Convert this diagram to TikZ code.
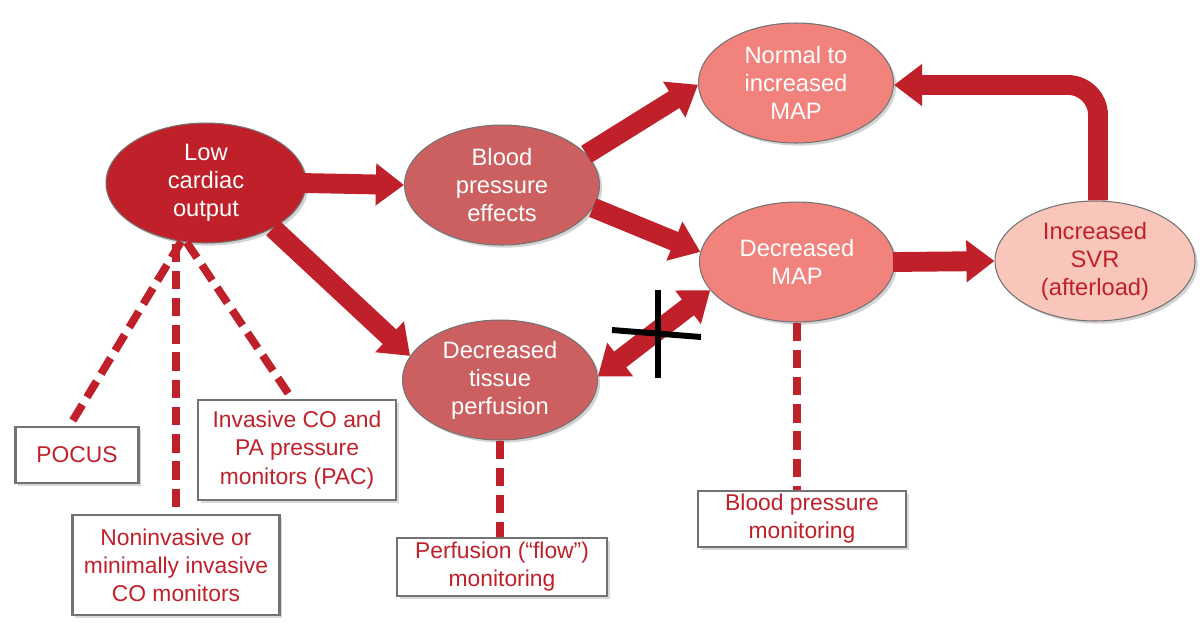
\documentclass[tikz,border=0pt]{standalone}
\usepackage{fontspec}
\setmainfont{Liberation Sans}
\usetikzlibrary{arrows.meta,shapes.geometric,shadows}
\definecolor{dred}{RGB}{192,32,42}
\definecolor{midred}{RGB}{204,96,96}
\definecolor{salmon}{RGB}{242,130,124}
\definecolor{palepink}{RGB}{248,198,186}
\tikzset{
  oval/.style={ellipse, minimum width=3.9cm, minimum height=2.4cm, inner sep=0pt, align=center,
    draw=black!55, line width=0.6pt, text=white,
    font=\fontsize{13.5}{16}\selectfont,
    drop shadow={opacity=0.35, shadow xshift=1.5pt, shadow yshift=-1.5pt}},
  mbox/.style={rectangle, draw=black!55, line width=1.2pt, fill=white, align=center, text=dred,
    inner sep=0pt, font=\fontsize{13}{16}\selectfont,
    drop shadow={opacity=0.3, shadow xshift=1.5pt, shadow yshift=-1.5pt}},
  bigarrow/.style={draw=dred, line width=11.3pt, -{Triangle[length=16pt,width=23pt]}},
  dblarrow/.style={draw=dred, line width=11.3pt, {Triangle[length=16pt,width=23pt]}-{Triangle[length=16pt,width=23pt]}},
  dashlink/.style={draw=dred, line width=4.5pt, dash pattern=on 10.5pt off 5pt},
  crossline/.style={draw=black, line width=3.4pt}
}
\begin{document}
\begin{tikzpicture}[x=0.02cm,y=-0.02cm]
\useasboundingbox (0,0) rectangle (1200,630);

% ovals
\node[oval, fill=dred, minimum width=4cm] (lco) at (206,183) {Low\\cardiac\\output};
\node[oval, fill=midred] (bpe) at (502,185) {Blood\\pressure\\effects};
\node[oval, fill=midred] (dtp) at (500,380) {Decreased\\tissue\\perfusion};
\node[oval, fill=salmon] (nmap) at (796,83) {Normal to\\increased\\MAP};
\node[oval, fill=salmon] (dmap) at (797,262) {Decreased\\MAP};
\node[oval, fill=palepink, text=dred, minimum width=4cm] (svr) at (1095,261) {Increased\\SVR\\(afterload)};

% boxes
\node[mbox, minimum width=2.46cm, minimum height=1.12cm] (pocus) at (77,455) {POCUS};
\node[mbox, minimum width=3.96cm, minimum height=2cm] (inv) at (297,450) {Invasive CO and\\PA pressure\\monitors (PAC)};
\node[mbox, minimum width=4.14cm, minimum height=2cm] (nonin) at (176,565) {Noninvasive or\\minimally invasive\\CO monitors};
\node[mbox, minimum width=4.2cm, minimum height=1.16cm] (perf) at (502,567) {Perfusion (“flow”)\\monitoring};
\node[mbox, minimum width=4.16cm, minimum height=1.12cm] (bpm) at (802,519) {Blood pressure\\monitoring};

% dashed links
\draw[dashlink] (lco.-113) -- ([xshift=-0.15cm]pocus.north);
\draw[dashlink] (nonin.north |- lco.south) -- (nonin.north);
\draw[dashlink] (lco.-108) -- ([xshift=-0.1cm]inv.north);
\draw[dashlink] (dtp.south) -- (dtp.south |- perf.north);
\draw[dashlink] (dmap.south) -- (dmap.south |- bpm.north);

% arrows
\draw[bigarrow] ([xshift=-0.08cm]lco.east) -- (bpe.west);
\draw[bigarrow] (lco.-34) -- (dtp.165);
\draw[bigarrow] (bpe.20) -- (nmap.181);
\draw[bigarrow] (bpe.-14) -- (dmap.174);
\draw[bigarrow] ([xshift=-0.04cm]dmap.east) -- (svr.west);
\draw[bigarrow, rounded corners=0.6cm] ([xshift=0.06cm]svr.north) |- ([yshift=-0.04cm]nmap.east);
\draw[dblarrow] (dtp.2) -- (dmap.198);

% cross
\draw[crossline] (658,290) -- (658,378);
\draw[crossline] (612,330) -- (701,337);
\end{tikzpicture}
\end{document}
